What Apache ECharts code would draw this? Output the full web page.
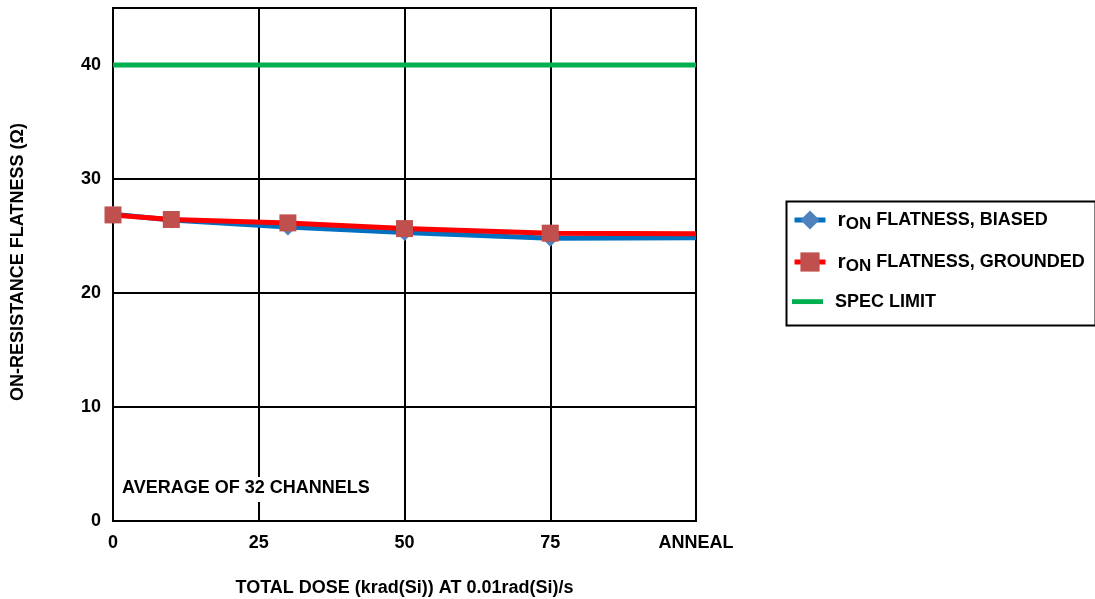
<!DOCTYPE html>
<html><head><meta charset="utf-8">
<script src="https://cdn.jsdelivr.net/npm/echarts@6/dist/echarts.min.js"></script>
<style>html,body{margin:0;padding:0;background:#fff}#c{width:1095px;height:599px}</style>
</head><body><div id="c"></div>
<script>
var doses = [0, 10, 30, 50, 75, 100];
var biased = [26.9, 26.4, 25.8, 25.3, 24.8, 24.85];
var grounded = [26.85, 26.45, 26.15, 25.65, 25.25, 25.2];
var specX = [0, 100];
var specY = [40, 40];
var xTickLabels = {0: '0', 25: '25', 50: '50', 75: '75', 100: 'ANNEAL'};
var F = 'Liberation Sans';

function pairs(xs, ys, skipLast) {
  return xs.map(function (x, i) {
    var p = {value: [x, ys[i]]};
    if (skipLast && i === xs.length - 1) p.symbol = 'none';
    return p;
  });
}

var legendRich = {
  r: {fontFamily: F, fontWeight: 'bold', fontSize: 21, color: '#000', lineHeight: 28, verticalAlign: 'middle', padding: [0, 0, 0, 7]},
  s: {fontFamily: F, fontWeight: 'bold', fontSize: 17, color: '#000', lineHeight: 28, verticalAlign: 'middle', padding: [9, 0, 0, 0]},
  t: {fontFamily: F, fontWeight: 'bold', fontSize: 18, color: '#000', lineHeight: 28, verticalAlign: 'middle'},
  p: {fontFamily: F, fontWeight: 'bold', fontSize: 18, color: '#000', lineHeight: 28, verticalAlign: 'middle', padding: [0, 0, 0, 7]}
};
function legendFmt(n) {
  if (n === 'biased') return '{r|r}{s|ON}{t| FLATNESS, BIASED}';
  if (n === 'grounded') return '{r|r}{s|ON}{t| FLATNESS, GROUNDED}';
  return '{p|SPEC LIMIT}';
}
function mkLegend(name, top, icon) {
  var item = {name: name};
  if (icon) item.icon = icon;
  return {
    left: 792, top: top, padding: 0, itemWidth: 31, itemHeight: 24,
    data: [item], formatter: legendFmt,
    lineStyle: {width: 5},
    textStyle: {fontFamily: F, fontWeight: 'bold', fontSize: 18, color: '#000', rich: legendRich}
  };
}

var chart = echarts.init(document.getElementById('c'));
chart.setOption({
  animation: false,
  textStyle: {fontFamily: F},
  grid: {left: 113, right: 399, top: 8, bottom: 78, outerBoundsMode: 'none', containLabel: false,
    show: true, borderColor: '#000', borderWidth: 2, backgroundColor: 'transparent'},
  xAxis: {
    type: 'value', min: 0, max: 100, interval: 25,
    name: 'TOTAL DOSE (krad(Si)) AT 0.01rad(Si)/s',
    nameLocation: 'middle', nameGap: 58,
    nameTextStyle: {fontFamily: F, fontWeight: 'bold', fontSize: 18, color: '#000'},
    axisLine: {show: true, lineStyle: {color: '#000', width: 2}},
    axisTick: {show: false},
    axisLabel: {margin: 13, fontFamily: F, fontWeight: 'bold', fontSize: 18, color: '#000',
      formatter: function (v) { return xTickLabels[v] !== undefined ? xTickLabels[v] : ''; }},
    splitLine: {show: true, lineStyle: {color: '#000', width: 2}}
  },
  yAxis: {
    type: 'value', min: 0, max: 45, interval: 10,
    name: 'ON-RESISTANCE FLATNESS (Ω)',
    nameLocation: 'middle', nameGap: 86, nameRotate: 90,
    nameTextStyle: {fontFamily: F, fontWeight: 'bold', fontSize: 18, color: '#000', padding: [0, 0, 0, 5]},
    axisLine: {show: true, lineStyle: {color: '#000', width: 2}},
    axisTick: {show: false},
    axisLabel: {margin: 12, fontFamily: F, fontWeight: 'bold', fontSize: 18, color: '#000', padding: [4, 0, 0, 0],
      formatter: function (v) { return v % 10 === 0 ? String(v) : ''; }},
    splitLine: {show: true, lineStyle: {color: '#000', width: 2}}
  },
  legend: [
    mkLegend('biased', 207),
    mkLegend('grounded', 249),
    mkLegend('SPEC LIMIT', 290, 'path://M0,0L0,0M32,24L32,24M0,9.5L32,9.5L32,14.5L0,14.5Z')
  ],
  graphic: [
    {type: 'rect', left: 784, top: 199, shape: {width: 309, height: 124}, style: {fill: 'none', stroke: '#000', lineWidth: 2}, z: 10},
    {type: 'rect', left: 118, top: 477, shape: {width: 262, height: 25}, style: {fill: '#fff'}, z: 1},
    {type: 'text', left: 122, top: 479, style: {text: 'AVERAGE OF 32 CHANNELS', font: 'bold 18px "Liberation Sans"', fill: '#000'}, z: 2}
  ],
  series: [
    {
      name: 'SPEC LIMIT', type: 'line', data: pairs(specX, specY, false), symbol: 'none',
      lineStyle: {color: '#00B050', width: 5}, itemStyle: {color: '#00B050'}, z: 3
    },
    {
      name: 'biased', type: 'line', data: pairs(doses, biased, true), symbol: 'diamond', symbolSize: 17,
      lineStyle: {color: '#0070C0', width: 5}, itemStyle: {color: '#4F81BD'}, z: 4
    },
    {
      name: 'grounded', type: 'line', data: pairs(doses, grounded, true), symbol: 'rect', symbolSize: 17,
      lineStyle: {color: '#FF0000', width: 5}, itemStyle: {color: '#C0504D'}, z: 5
    }
  ]
});
</script></body></html>
